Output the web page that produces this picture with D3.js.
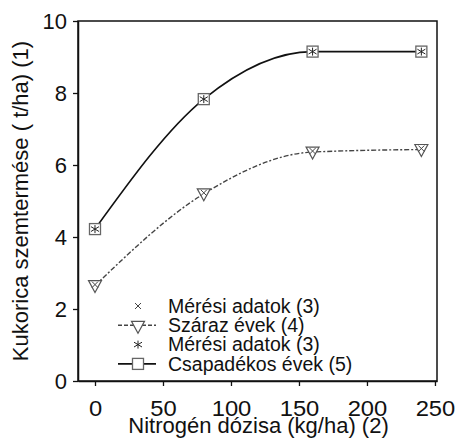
<!DOCTYPE html>
<html>
<head>
<meta charset="utf-8">
<script src="https://cdn.jsdelivr.net/npm/d3@7"></script>
<style>
  body { margin: 0; background: #fff; }
  text { font-family: "Liberation Sans", Arial, sans-serif; fill: #111; }
</style>
</head>
<body>
<svg width="457" height="440"></svg>
<script>
var svg = d3.select("svg");

// data
var doses = [0, 80, 160, 240];
var dryYield = [2.65, 5.2, 6.36, 6.43];
var wetYield = [4.22, 7.83, 9.15, 9.15];
var xTicks = [0, 50, 100, 150, 200, 250];
var yTicks = [0, 2, 4, 6, 8, 10];
var legendLabels = ["Mérési adatok (3)", "Száraz évek (4)", "Mérési adatok (3)", "Csapadékos évek (5)"];
var legendKinds = ["cross", "dry", "star", "wet"];

var plotLeft = 78, plotRight = 437, plotTop = 21, plotBottom = 381;

var x = d3.scaleLinear().domain([-12.5, 251.5]).range([plotLeft, plotRight]);
var y = d3.scaleLinear().domain([0, 10]).range([plotBottom, plotTop]);

// frame
svg.append("rect")
   .attr("x", plotLeft).attr("y", plotTop)
   .attr("width", plotRight - plotLeft).attr("height", plotBottom - plotTop)
   .attr("fill", "none").attr("stroke", "#111").attr("stroke-width", 1.5);

var xAxis = svg.append("g")
   .attr("transform", "translate(0," + plotBottom + ")")
   .call(d3.axisBottom(x).tickValues(xTicks).tickSize(5).tickPadding(14).tickSizeOuter(0));
var yAxis = svg.append("g")
   .attr("transform", "translate(" + plotLeft + ",0)")
   .call(d3.axisLeft(y).tickValues(yTicks).tickSize(5).tickPadding(6).tickSizeOuter(0));

[xAxis, yAxis].forEach(function(g) {
  g.select(".domain").attr("stroke", "#111").attr("stroke-width", 1.5);
  g.selectAll(".tick line").attr("stroke", "#111").attr("stroke-width", 1.3);
  g.selectAll(".tick text")
   .attr("fill", "#111")
   .style("font-family", "'Liberation Sans', Arial, sans-serif")
   .style("font-size", "22px");
});
// the x labels look a touch wider in the picture
xAxis.selectAll(".tick text").attr("transform", "scale(1.08,1)");

// axis titles
svg.append("text")
   .attr("x", (plotLeft + plotRight) / 2 + 1)
   .attr("y", 433)
   .attr("text-anchor", "middle")
   .style("font-size", "22px")
   .text("Nitrogén dózisa (kg/ha) (2)");

svg.append("text")
   .attr("transform", "translate(28," + ((plotTop + plotBottom) / 2) + ") rotate(-90)")
   .attr("text-anchor", "middle")
   .style("font-size", "22px")
   .text("Kukorica szemtermése ( t/ha) (1)");

var curve = d3.line()
   .x(function(d, i) { return x(doses[i]); })
   .y(function(d) { return y(d); })
   .curve(d3.curveMonotoneX);

svg.append("path")
   .attr("d", curve(dryYield))
   .attr("fill", "none")
   .attr("stroke", "#444")
   .attr("stroke-width", 1.4)
   .attr("stroke-dasharray", "5,2,2,2");

svg.append("path")
   .attr("d", curve(wetYield))
   .attr("fill", "none")
   .attr("stroke", "#111")
   .attr("stroke-width", 1.6);

// marker helpers
function drawTriangle(g, cx, cy) {
  g.append("path")
   .attr("d", "M" + (cx - 6.5) + "," + (cy - 5) + "L" + (cx + 6.5) + "," + (cy - 5) + "L" + cx + "," + (cy + 7) + "Z")
   .attr("fill", "#fff").attr("stroke", "#555").attr("stroke-width", 1.2);
}
function drawCross(g, cx, cy, s) {
  g.append("path")
   .attr("d", "M" + (cx - s) + "," + (cy - s) + "L" + (cx + s) + "," + (cy + s) +
              "M" + (cx - s) + "," + (cy + s) + "L" + (cx + s) + "," + (cy - s))
   .attr("stroke", "#444").attr("stroke-width", 1);
}
function drawSquare(g, cx, cy) {
  g.append("rect")
   .attr("x", cx - 5.5).attr("y", cy - 5.5).attr("width", 11).attr("height", 11)
   .attr("fill", "#fff").attr("stroke", "#666").attr("stroke-width", 1.3);
}
function drawStar(g, cx, cy, s) {
  g.append("path")
   .attr("d", "M" + cx + "," + (cy - s) + "L" + cx + "," + (cy + s) +
              "M" + (cx - s) + "," + (cy - s * 0.6) + "L" + (cx + s) + "," + (cy + s * 0.6) +
              "M" + (cx - s) + "," + (cy + s * 0.6) + "L" + (cx + s) + "," + (cy - s * 0.6))
   .attr("stroke", "#222").attr("stroke-width", 1);
}

var marks = svg.append("g");
dryYield.forEach(function(v, i) {
  drawTriangle(marks, x(doses[i]), y(v));
  drawCross(marks, x(doses[i]), y(v) - 1, 3);
});
wetYield.forEach(function(v, i) {
  drawSquare(marks, x(doses[i]), y(v));
  drawStar(marks, x(doses[i]), y(v), 4);
});

// legend
var legend = svg.append("g");
var lx = 138, ly = 306, step = 19.3;
legendLabels.forEach(function(lbl, i) {
  var cy = ly + i * step;
  var kind = legendKinds[i];
  if (kind == "dry") {
    legend.append("line").attr("x1", lx - 20).attr("x2", lx + 18).attr("y1", cy).attr("y2", cy)
          .attr("stroke", "#444").attr("stroke-width", 1.4).attr("stroke-dasharray", "4,2");
    drawTriangle(legend, lx, cy + 1);
  }
  else if (kind == "wet") {
    legend.append("line").attr("x1", lx - 20).attr("x2", lx + 18).attr("y1", cy).attr("y2", cy)
          .attr("stroke", "#111").attr("stroke-width", 1.6);
    drawSquare(legend, lx, cy);
  }
  else if (kind == "cross") {
    drawCross(legend, lx, cy, 3);
  }
  else {
    drawStar(legend, lx, cy, 4);
  }
  legend.append("text")
        .attr("x", 168)
        .attr("y", cy)
        .attr("dy", "0.35em")
        .style("font-size", "19.5px")
        .text(lbl);
});
</script>
</body>
</html>
